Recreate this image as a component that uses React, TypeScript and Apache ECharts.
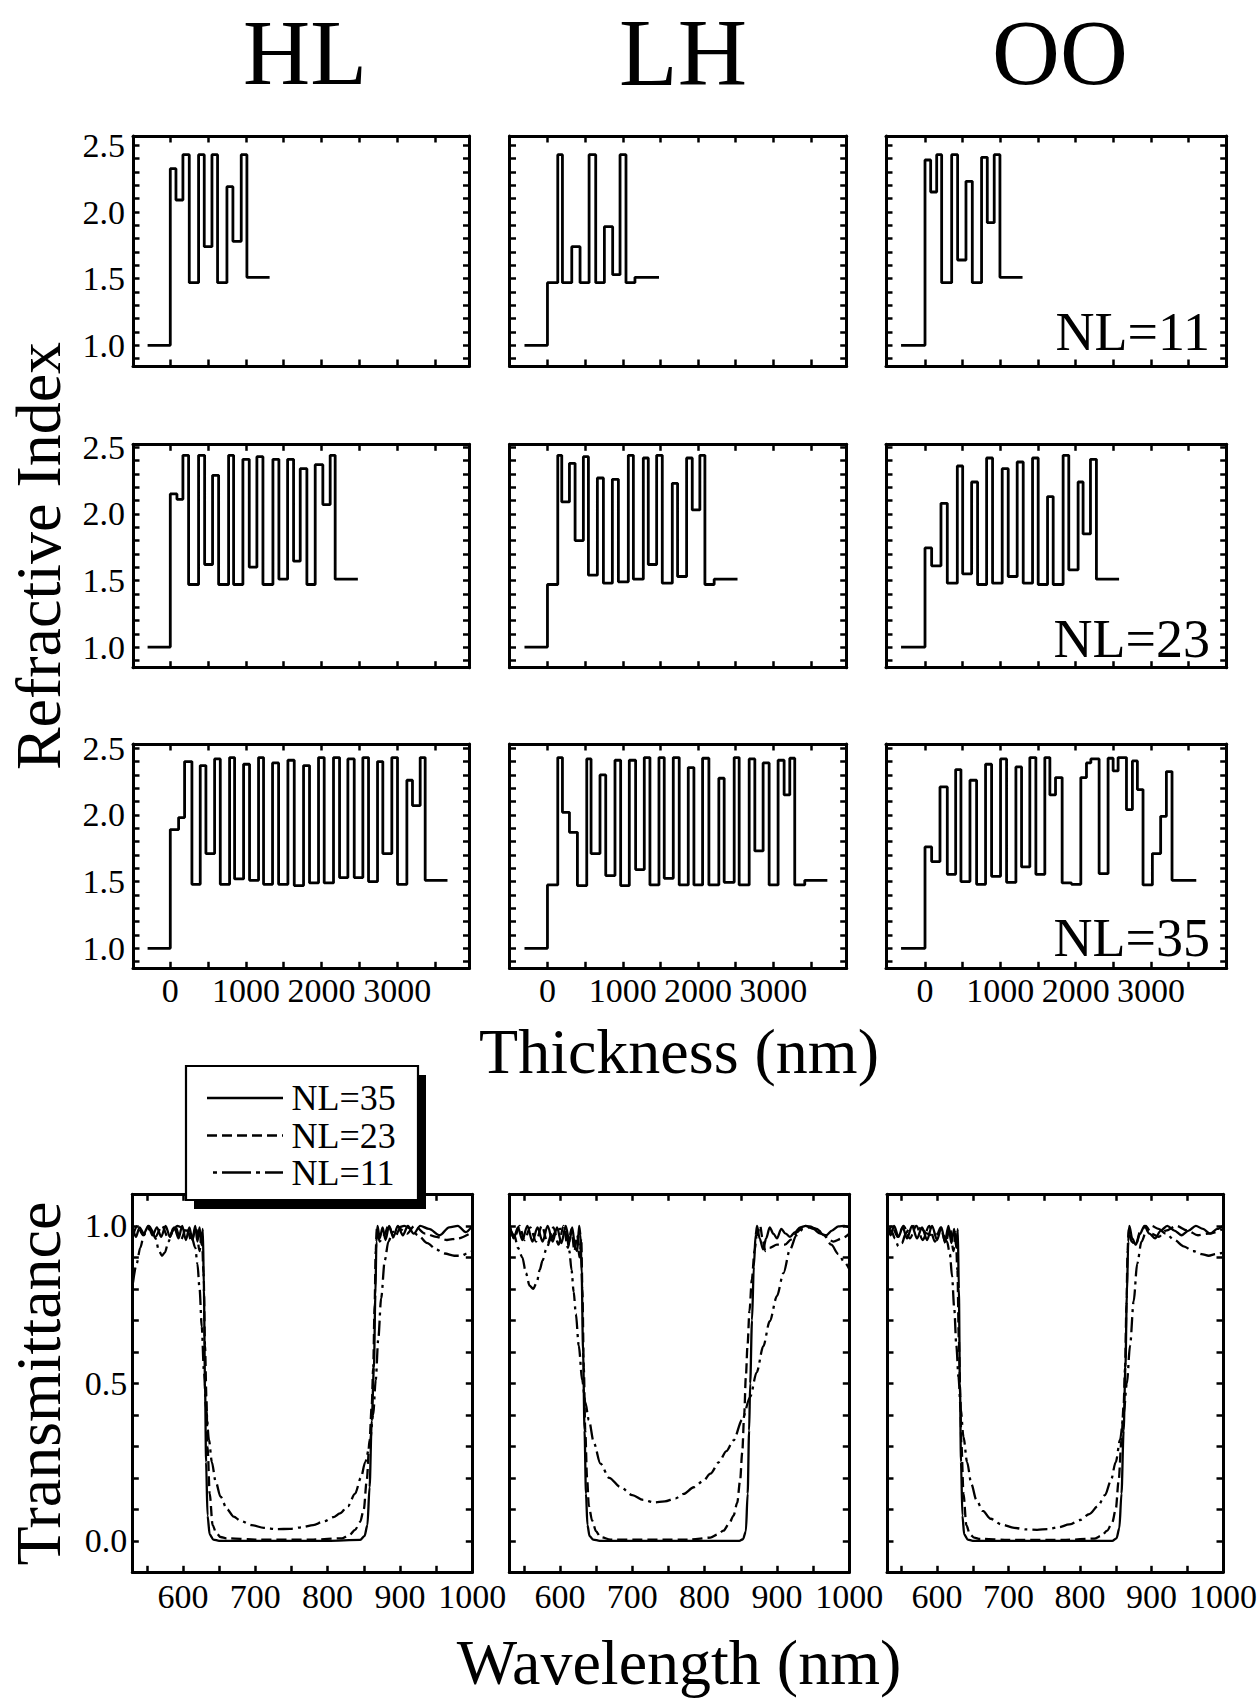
import React, { useEffect, useRef } from "react";
import * as echarts from "echarts";

const FONT = '"Liberation Serif", "Times New Roman", Times, serif';

// ---------------- titles ----------------
const columnTitles = ["HL", "LH", "OO"];
const layerLabels = ["NL=11", "NL=23", "NL=35"];
const legendLabels = ["NL=35", "NL=23", "NL=11"];

// ---------------- refractive index profiles ----------------
// boundaries (nm) of each region: ambient, layers..., substrate ; index per region
const hl11Bounds = [-300, 0, 75, 167, 251, 374, 449, 551, 625, 749, 828, 938, 1013, 1313];
const hl11Index = [1.0, 2.325, 2.09, 2.43, 1.47, 2.43, 1.74, 2.43, 1.47, 2.19, 1.78, 2.43, 1.51];

const lh11Bounds = [-305, 0, 137, 199, 323, 433, 553, 641, 756, 866, 964, 1043, 1162, 1481];
const lh11Index = [1.0, 1.47, 2.43, 1.47, 1.74, 1.47, 2.43, 1.47, 1.89, 1.53, 2.43, 1.47, 1.51];

const oo11Bounds = [-318, 0, 75, 155, 221, 354, 433, 544, 628, 751, 827, 919, 995, 1295];
const oo11Index = [1.0, 2.39, 2.15, 2.43, 1.47, 2.43, 1.64, 2.23, 1.47, 2.41, 1.92, 2.43, 1.51];

const hl23Bounds = [-300, 0, 88, 167, 242, 374, 454, 559, 639, 771, 837, 960, 1044, 1145, 1225, 1357, 1436, 1551, 1630, 1718, 1806, 1916, 2017, 2114, 2180, 2480];
const hl23Index = [1.0, 2.15, 2.11, 2.44, 1.47, 2.44, 1.62, 2.29, 1.47, 2.44, 1.47, 2.41, 1.6, 2.43, 1.47, 2.41, 1.51, 2.41, 1.645, 2.34, 1.47, 2.37, 2.07, 2.44, 1.51];

const lh23Bounds = [-305, 0, 137, 190, 292, 367, 477, 544, 663, 743, 862, 942, 1074, 1141, 1273, 1339, 1450, 1525, 1658, 1728, 1848, 1923, 2024, 2091, 2214, 2524];
const lh23Index = [1.0, 1.47, 2.44, 2.09, 2.38, 1.8, 2.43, 1.54, 2.27, 1.48, 2.26, 1.49, 2.44, 1.51, 2.42, 1.62, 2.44, 1.48, 2.23, 1.53, 2.42, 2.03, 2.44, 1.47, 1.51];

const oo23Bounds = [-318, 0, 88, 212, 296, 429, 500, 619, 698, 818, 897, 1025, 1105, 1224, 1304, 1428, 1503, 1627, 1702, 1834, 1909, 2033, 2099, 2197, 2276, 2577];
const oo23Index = [1.0, 1.745, 1.61, 2.08, 1.48, 2.36, 1.55, 2.24, 1.47, 2.42, 1.48, 2.34, 1.53, 2.39, 1.48, 2.42, 1.47, 2.13, 1.47, 2.44, 1.58, 2.24, 1.85, 2.41, 1.51];

const hl35Bounds = [-300, 0, 110, 189, 286, 396, 471, 586, 661, 784, 850, 969, 1048, 1167, 1233, 1352, 1432, 1555, 1639, 1762, 1841, 1960, 2035, 2158, 2238, 2348, 2432, 2546, 2621, 2740, 2810, 2929, 3004, 3128, 3202, 3304, 3370, 3665];
const hl35Index = [1.0, 1.89, 1.98, 2.4, 1.48, 2.37, 1.71, 2.42, 1.48, 2.43, 1.52, 2.38, 1.51, 2.43, 1.48, 2.39, 1.48, 2.41, 1.47, 2.37, 1.49, 2.43, 1.49, 2.43, 1.53, 2.42, 1.53, 2.43, 1.5, 2.4, 1.71, 2.43, 1.48, 2.26, 2.07, 2.43, 1.51];

const lh35Bounds = [-305, 0, 137, 199, 292, 398, 522, 579, 698, 774, 897, 972, 1087, 1171, 1286, 1361, 1481, 1551, 1671, 1750, 1870, 1945, 2060, 2144, 2276, 2347, 2480, 2546, 2679, 2754, 2864, 2944, 3063, 3143, 3218, 3284, 3417, 3717];
const lh35Index = [1.0, 1.475, 2.43, 2.02, 1.87, 1.47, 2.42, 1.71, 2.3, 1.545, 2.41, 1.47, 2.41, 1.59, 2.43, 1.475, 2.43, 1.525, 2.43, 1.475, 2.355, 1.475, 2.425, 1.475, 2.275, 1.495, 2.43, 1.475, 2.42, 1.73, 2.39, 1.475, 2.41, 2.15, 2.425, 1.475, 1.51];

const oo35Bounds = [-318, 0, 88, 199, 296, 407, 477, 597, 685, 804, 884, 1003, 1083, 1207, 1282, 1392, 1472, 1591, 1658, 1733, 1821, 1945, 2069, 2144, 2202, 2312, 2431, 2498, 2564, 2675, 2754, 2820, 2895, 3019, 3129, 3205, 3280, 3602];
const oo35Index = [1.0, 1.76, 1.65, 2.21, 1.555, 2.34, 1.5, 2.26, 1.48, 2.38, 1.54, 2.42, 1.495, 2.36, 1.61, 2.43, 1.555, 2.43, 2.15, 2.28, 1.49, 1.48, 2.28, 2.39, 2.42, 1.56, 2.425, 2.33, 2.43, 2.04, 2.405, 2.19, 1.475, 1.71, 1.99, 2.325, 1.51];

// ---------------- transmittance spectra [wavelength nm, T] ----------------
const hlT35 = [[531, 0.99], [535, 0.965], [540, 0.995], [546, 0.975], [552, 1.0], [558, 0.97], [564, 0.995], [570, 0.965], [576, 1.0], [582, 0.965], [588, 0.995], [594, 0.96], [599, 1.0], [604, 0.955], [609, 0.995], [613, 0.955], [617, 1.0], [620, 0.95], [623, 0.995], [625.5, 0.94], [627.5, 0.99], [629, 0.8], [630.5, 0.5], [632, 0.25], [634, 0.08], [637, 0.02], [642, 0.004], [650, 0.0], [700, 0.0], [800, 0.0], [845, 0.003], [851, 0.015], [855, 0.05], [858, 0.17], [861, 0.38], [864, 0.55], [866, 0.78], [867.5, 0.95], [869, 1.0], [872, 0.96], [876, 0.995], [880, 0.955], [885, 1.0], [891, 0.965], [897, 1.0], [904, 0.97], [911, 1.0], [919, 0.975], [928, 1.0], [940, 0.99], [955, 0.97], [968, 0.995], [980, 1.0], [991, 0.98], [1000, 1.0]];
const hlT23 = [[531, 0.97], [537, 1.0], [545, 0.97], [553, 1.0], [562, 0.965], [571, 1.0], [580, 0.96], [589, 1.0], [597, 0.955], [605, 0.995], [612, 0.95], [618, 0.995], [623, 0.92], [626, 0.98], [628.5, 0.85], [630.5, 0.62], [632.5, 0.45], [634, 0.3], [637, 0.15], [641, 0.05], [646, 0.025], [652, 0.012], [660, 0.008], [700, 0.004], [780, 0.004], [820, 0.008], [830, 0.018], [838, 0.035], [845, 0.06], [850, 0.1], [854, 0.19], [858, 0.32], [861, 0.43], [863, 0.55], [865, 0.75], [866.5, 0.92], [868, 0.99], [872, 0.95], [878, 0.97], [884, 1.0], [892, 0.96], [900, 0.99], [910, 0.975], [920, 1.0], [935, 0.975], [950, 0.965], [965, 0.955], [980, 0.96], [1000, 0.98]];
const hlT11 = [[531, 0.82], [536, 0.88], [541, 0.93], [546, 0.97], [551, 0.99], [557, 0.985], [562, 0.96], [567, 0.92], [571, 0.905], [575, 0.915], [580, 0.95], [586, 0.985], [592, 1.0], [598, 0.995], [605, 0.985], [612, 0.965], [617, 0.93], [620, 0.88], [623, 0.8], [626, 0.68], [629, 0.54], [632, 0.42], [636, 0.32], [640, 0.25], [645, 0.19], [652, 0.14], [661, 0.1], [670, 0.077], [680, 0.063], [695, 0.05], [712, 0.041], [730, 0.037], [748, 0.038], [765, 0.043], [780, 0.05], [795, 0.062], [808, 0.075], [817, 0.087], [828, 0.11], [838, 0.15], [846, 0.2], [852, 0.25], [858, 0.3], [863, 0.4], [866.5, 0.51], [870, 0.64], [874, 0.77], [879, 0.89], [884, 0.95], [890, 0.98], [898, 0.995], [906, 1.0], [915, 0.99], [925, 0.97], [938, 0.945], [950, 0.925], [962, 0.912], [975, 0.905], [985, 0.905], [993, 0.912], [1000, 0.92]];

const lhT35 = [[531, 1.0], [536, 0.96], [542, 0.995], [548, 0.955], [555, 1.0], [562, 0.95], [569, 0.995], [576, 0.95], [583, 1.0], [590, 0.95], [596, 0.995], [602, 0.945], [608, 1.0], [613, 0.95], [617, 0.995], [621, 0.93], [624, 0.92], [626.5, 1.0], [628.5, 0.97], [630, 0.85], [632, 0.6], [634, 0.35], [636, 0.15], [638, 0.05], [641, 0.015], [646, 0.004], [655, 0.0], [750, 0.0], [848, 0.0], [853, 0.005], [857, 0.03], [859.5, 0.15], [861.5, 0.35], [863, 0.5], [865.5, 0.7], [868, 0.87], [870.5, 0.97], [872.5, 1.0], [876, 0.96], [881, 0.925], [885, 0.96], [890, 0.995], [895, 0.975], [900, 0.96], [906, 0.99], [912, 0.975], [918, 0.965], [925, 0.98], [932, 0.995], [940, 1.0], [950, 0.99], [960, 0.975], [968, 0.97], [976, 0.985], [985, 0.998], [993, 1.0], [1000, 0.995]];
const lhT23 = [[531, 0.99], [537, 0.96], [544, 1.0], [551, 0.955], [559, 0.995], [567, 0.95], [575, 1.0], [583, 0.945], [591, 0.995], [598, 0.94], [605, 1.0], [611, 0.93], [616, 0.99], [620, 0.92], [624, 0.97], [627, 0.9], [629.5, 0.96], [631, 0.8], [633, 0.55], [635, 0.35], [637.5, 0.2], [640, 0.11], [644.5, 0.064], [650, 0.03], [656, 0.012], [670, 0.004], [780, 0.004], [808, 0.01], [818, 0.02], [826, 0.032], [834, 0.055], [840, 0.08], [845, 0.12], [849, 0.19], [852, 0.28], [854.7, 0.4], [857, 0.52], [859.3, 0.62], [862, 0.73], [865.3, 0.83], [869, 0.92], [872, 0.968], [876.8, 1.0], [880, 0.96], [884, 0.92], [890, 0.93], [900, 0.94], [911, 0.94], [920, 0.957], [928, 0.98], [936.6, 1.0], [945, 0.998], [955, 0.99], [965, 0.97], [978, 0.95], [990, 0.96], [1000, 0.975]];
const lhT11 = [[531, 0.99], [537, 0.97], [542, 0.93], [548, 0.9], [553, 0.85], [558, 0.81], [563, 0.8], [568, 0.82], [572, 0.86], [576, 0.89], [581, 0.925], [587, 0.957], [594, 0.98], [600, 0.99], [606, 0.99], [610, 0.96], [613, 0.92], [616, 0.86], [619, 0.79], [622, 0.72], [626, 0.62], [630.8, 0.51], [635, 0.44], [640, 0.383], [647, 0.31], [656, 0.245], [668, 0.2], [684, 0.17], [700, 0.145], [715, 0.13], [730, 0.122], [745, 0.125], [760, 0.135], [771, 0.149], [785, 0.17], [798, 0.19], [808, 0.213], [820, 0.25], [830, 0.285], [840, 0.319], [852, 0.385], [863, 0.457], [872, 0.535], [881, 0.617], [890, 0.697], [900, 0.777], [909, 0.85], [918, 0.925], [927, 0.97], [936, 0.99], [945, 0.995], [955, 0.99], [965, 0.97], [975, 0.94], [985, 0.91], [993, 0.885], [1000, 0.862]];

const ooT35 = [[531, 1.0], [535, 0.97], [540, 1.0], [546, 0.965], [552, 0.995], [558, 0.96], [565, 1.0], [572, 0.96], [579, 0.995], [586, 0.955], [593, 1.0], [600, 0.955], [606, 0.995], [611, 0.95], [616, 1.0], [620, 0.945], [624, 0.99], [627, 0.93], [629, 0.99], [630.5, 0.8], [632, 0.5], [633.5, 0.25], [635.5, 0.08], [638, 0.02], [643, 0.004], [650, 0.0], [750, 0.0], [845, 0.0], [851, 0.008], [855, 0.04], [858, 0.15], [861, 0.35], [863.5, 0.55], [865.5, 0.78], [867.5, 0.95], [869, 1.0], [873, 0.96], [878, 0.94], [884, 0.975], [890, 1.0], [897, 0.975], [905, 0.96], [913, 0.985], [922, 1.0], [932, 0.985], [942, 0.97], [952, 0.985], [962, 1.0], [972, 0.99], [982, 0.975], [992, 0.99], [1000, 1.0]];
const ooT23 = [[531, 0.97], [537, 1.0], [545, 0.965], [553, 1.0], [562, 0.96], [571, 1.0], [580, 0.955], [589, 1.0], [597, 0.95], [605, 0.995], [612, 0.945], [618, 0.995], [623, 0.92], [626, 0.98], [628.5, 0.86], [630.5, 0.64], [632.5, 0.46], [634, 0.31], [637, 0.15], [641, 0.05], [646, 0.02], [652, 0.01], [660, 0.006], [700, 0.003], [780, 0.003], [820, 0.007], [830, 0.016], [838, 0.032], [845, 0.058], [850, 0.1], [854, 0.19], [858, 0.32], [861, 0.43], [863, 0.55], [865, 0.75], [866.5, 0.92], [868, 0.99], [872, 0.95], [878, 0.94], [884, 0.98], [892, 1.0], [900, 0.975], [910, 0.965], [920, 0.985], [935, 1.0], [950, 0.985], [965, 0.97], [980, 0.975], [1000, 0.99]];
const ooT11 = [[531, 0.97], [536, 0.985], [541, 0.96], [546, 0.935], [551, 0.945], [556, 0.975], [562, 0.995], [570, 1.0], [578, 0.99], [586, 0.975], [594, 0.97], [602, 0.975], [609, 0.97], [614, 0.95], [618, 0.91], [621, 0.84], [624, 0.74], [627, 0.62], [630, 0.52], [633, 0.42], [637, 0.33], [642, 0.25], [648, 0.18], [655, 0.13], [664, 0.095], [675, 0.07], [690, 0.052], [708, 0.041], [725, 0.036], [740, 0.035], [755, 0.037], [770, 0.043], [785, 0.052], [800, 0.066], [813, 0.085], [825, 0.11], [835, 0.145], [843, 0.19], [850, 0.25], [856, 0.32], [861, 0.4], [865.5, 0.5], [870, 0.62], [875, 0.76], [880, 0.88], [886, 0.95], [893, 0.985], [900, 1.0], [910, 0.99], [920, 0.975], [932, 0.955], [945, 0.935], [958, 0.92], [970, 0.91], [980, 0.905], [990, 0.91], [1000, 0.915]];

// ---------------- ticks ----------------
const thicknessTicks = [0, 500, 1000, 1500, 2000, 2500, 3000, 3500];
const thicknessLabels = [0, 1000, 2000, 3000];
const indexTicks = [0.9, 1.0, 1.1, 1.2, 1.3, 1.4, 1.5, 1.6, 1.7, 1.8, 1.9, 2.0, 2.1, 2.2, 2.3, 2.4, 2.5];
const indexLabels = [1.0, 1.5, 2.0, 2.5];
const wavelengthTicks = [550, 600, 650, 700, 750, 800, 850, 900, 950];
const wavelengthLabels = [600, 700, 800, 900, 1000];
const transTicks = [0, 0.1, 0.2, 0.3, 0.4, 0.5, 0.6, 0.7, 0.8, 0.9, 1.0];
const transLabels = [0, 0.5, 1.0];

// ---------------- layout ----------------
const refCols = [
  { left: 133, width: 336.5, min: -493, max: 3956 },
  { left: 509.5, width: 337.2, min: -504, max: 3974 },
  { left: 886, width: 340.7, min: -518, max: 4006 },
];
const refRows = [
  { top: 136, height: 230, min: 0.845, max: 2.57 },
  { top: 444.3, height: 223.4, min: 0.845, max: 2.523 },
  { top: 744, height: 224.3, min: 0.85, max: 2.532 },
];
const transCols = [
  { left: 132.3, width: 340 },
  { left: 509.3, width: 340 },
  { left: 887, width: 341.5 },
];
const transRow = { top: 1194.3, height: 378, min: -0.1, max: 1.1, xmin: 530, xmax: 1000 };

const refProfiles = [
  [hl11Bounds, hl11Index], [lh11Bounds, lh11Index], [oo11Bounds, oo11Index],
  [hl23Bounds, hl23Index], [lh23Bounds, lh23Index], [oo23Bounds, oo23Index],
  [hl35Bounds, hl35Index], [lh35Bounds, lh35Index], [oo35Bounds, oo35Index],
];
const transSpectra = [
  [hlT35, hlT23, hlT11],
  [lhT35, lhT23, lhT11],
  [ooT35, ooT23, ooT11],
];
const lineTypes: any[] = ["solid", [10, 5], [15, 5, 3, 5]];

function buildOption() {
  const grid: any[] = [];
  const xAxis: any[] = [];
  const yAxis: any[] = [];
  const series: any[] = [];

  const axisLine = { show: true, onZero: false, lineStyle: { color: "#000", width: 3 } };
  const tick = (vals: number[]) => ({
    show: true, inside: true, length: 6.5, customValues: vals,
    lineStyle: { color: "#000", width: 2.5 },
  });
  const label = (vals: number[], fmt: (v: number) => string, margin: number) => ({
    show: true, customValues: vals, formatter: fmt, margin,
    color: "#000", fontFamily: FONT, fontSize: 34,
  });
  const noLabel = { show: false };

  const addGrid = (g: any, x: any, y: any, xLab: any, yLab: any) => {
    grid.push(g);
    const gi = grid.length - 1;
    const xb = { type: "value", gridIndex: gi, splitLine: { show: false }, axisLine, ...x };
    const yb = { type: "value", gridIndex: gi, splitLine: { show: false }, axisLine, ...y };
    xAxis.push({ ...xb, position: "bottom", axisLabel: xLab });
    xAxis.push({ ...xb, position: "top", axisLabel: noLabel });
    yAxis.push({ ...yb, position: "left", axisLabel: yLab });
    yAxis.push({ ...yb, position: "right", axisLabel: noLabel });
    return 2 * gi;
  };

  refProfiles.forEach(([bounds, index], i) => {
    const r = Math.floor(i / 3);
    const c = i % 3;
    const col = refCols[c];
    const row = refRows[r];
    const ai = addGrid(
      { left: col.left, top: row.top, width: col.width, height: row.height },
      { min: col.min, max: col.max, axisTick: tick(thicknessTicks) },
      { min: row.min, max: row.max, axisTick: tick(indexTicks) },
      r === 2 ? label(thicknessLabels, (v) => String(v), 5) : noLabel,
      c === 0 ? label(indexLabels, (v) => v.toFixed(1), 8) : noLabel
    );
    const data = index.map((n, k) => [bounds[k], n]);
    data.push([bounds[bounds.length - 1], index[index.length - 1]]);
    series.push({
      type: "line", xAxisIndex: ai, yAxisIndex: ai, data, step: "end",
      symbol: "none", lineStyle: { color: "#000", width: 2.8 }, silent: true,
    });
  });

  transSpectra.forEach((curves, c) => {
    const col = transCols[c];
    const ai = addGrid(
      { left: col.left, top: transRow.top, width: col.width, height: transRow.height },
      { min: transRow.xmin, max: transRow.xmax, axisTick: tick(wavelengthTicks) },
      { min: transRow.min, max: transRow.max, axisTick: tick(transTicks) },
      label(wavelengthLabels, (v) => String(v), 7),
      c === 0 ? label(transLabels, (v) => v.toFixed(1), 5) : noLabel
    );
    curves.forEach((data, k) => {
      series.push({
        type: "line", xAxisIndex: ai, yAxisIndex: ai, data, symbol: "none",
        smooth: 0.3, smoothMonotone: "x", silent: true,
        name: legendLabels[k],
        lineStyle: { color: "#000", width: 2.3, type: lineTypes[k] },
      });
    });
  });

  const txt = (text: string, x: number, y: number, size: number, align = "center", rotation = 0) => ({
    type: "text", x, y, rotation, z: 100,
    style: { text, fontFamily: FONT, fontSize: size, fill: "#000", align, verticalAlign: "middle" },
  });

  const titleX = [305, 683, 1060];
  const titleSize = [93, 96, 94];
  const nlY = [332, 639, 938];
  const graphic: any[] = [];
  columnTitles.forEach((t, i) => graphic.push(txt(t, titleX[i], 52, titleSize[i])));
  layerLabels.forEach((t, i) => graphic.push(txt(t, 1210, nlY[i], 54, "right")));
  graphic.push(txt("Refractive Index", 38, 556, 64, "center", Math.PI / 2));
  graphic.push(txt("Thickness (nm)", 679, 1051, 64));
  graphic.push(txt("Transmittance", 38, 1383.5, 64, "center", Math.PI / 2));
  graphic.push(txt("Wavelength (nm)", 679, 1662, 64));

  // legend box with drop shadow
  const lx = 186, ly = 1066, lw = 232, lh = 134;
  const legendY = [1098, 1135.5, 1172.5];
  const legendDash: any[] = [null, [10, 5], [4, 5, 29, 5]];
  const legendStart = [207, 207, 213];
  const legendChildren: any[] = [
    { type: "rect", shape: { x: lx + 8, y: ly + 9, width: lw, height: lh }, style: { fill: "#000" }, z: 110 },
    { type: "rect", shape: { x: lx, y: ly, width: lw, height: lh }, style: { fill: "#fff", stroke: "#000", lineWidth: 2.2 }, z: 111 },
  ];
  legendLabels.forEach((t, i) => {
    legendChildren.push({
      type: "line", z: 112,
      shape: { x1: legendStart[i], y1: legendY[i], x2: 283, y2: legendY[i] },
      style: { stroke: "#000", lineWidth: 2.3, lineDash: legendDash[i] || undefined },
    });
    legendChildren.push({
      type: "text", x: 291.5, y: legendY[i], z: 112,
      style: { text: t, fontFamily: FONT, fontSize: 36, fill: "#000", align: "left", verticalAlign: "middle" },
    });
  });
  graphic.push({ type: "group", children: legendChildren, z: 110 });

  return {
    animation: false,
    backgroundColor: "#fff",
    grid, xAxis, yAxis, series, graphic,
  };
}

export default function App() {
  const ref = useRef<HTMLDivElement>(null);
  useEffect(() => {
    document.body.style.margin = "0";
    const chart = echarts.init(ref.current as HTMLDivElement, null, { renderer: "svg" });
    chart.setOption(buildOption() as any);
    return () => chart.dispose();
  }, []);
  return <div ref={ref} style={{ width: 1260, height: 1700, background: "#fff" }} />;
}
